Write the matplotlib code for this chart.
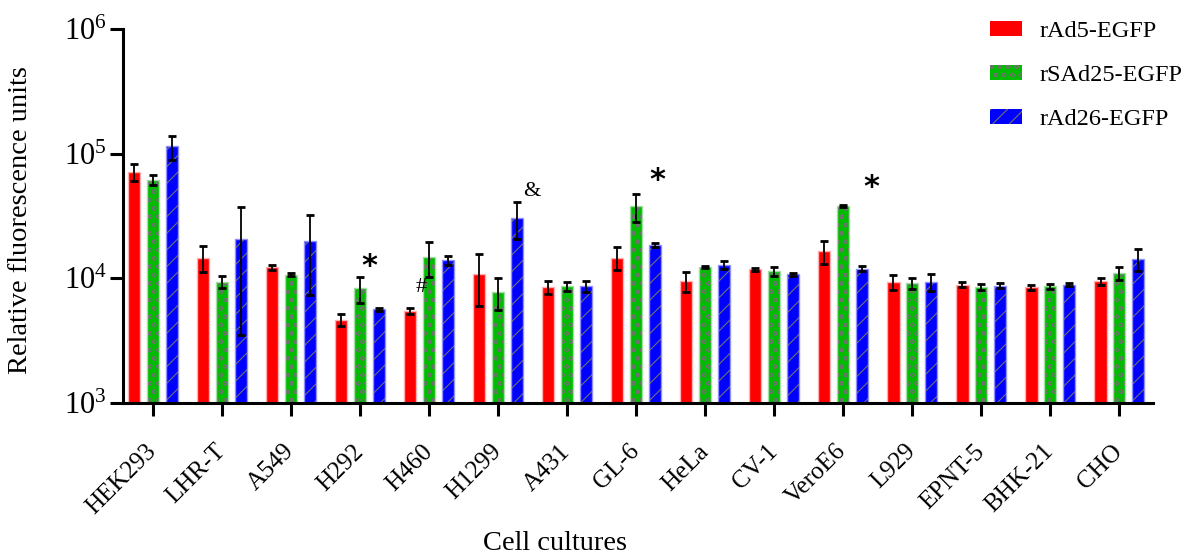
import matplotlib
matplotlib.use("Agg")
import matplotlib.pyplot as plt
import matplotlib.transforms as mtransforms
import numpy as np
from matplotlib.patches import Patch

plt.rcParams['font.family'] = ['Liberation Serif', 'DejaVu Serif']
plt.rcParams['mathtext.fontset'] = 'custom'
plt.rcParams['mathtext.rm'] = 'Liberation Serif'
plt.rcParams['hatch.color'] = '#707070'
plt.rcParams['hatch.linewidth'] = 0.8

cells = ["HEK293", "LHR-T", "A549", "H292", "H460", "H1299", "A431", "GL-6",
         "HeLa", "CV-1", "VeroE6", "L929", "EPNT-5", "BHK-21", "CHO"]
series = ["rAd5-EGFP", "rSAd25-EGFP", "rAd26-EGFP"]

rad5 = [71000, 14650, 12250, 4620, 5500, 10800, 8470, 14650,
        9520, 11800, 16400, 9290, 8900, 8470, 9460]
rad5_err = [11000, 3500, 500, 500, 300, 4800, 1000, 3100,
            1700, 300, 3500, 1300, 400, 400, 600]
rsad25 = [61600, 9330, 10700, 8280, 14800, 7800, 8600, 38000,
          12300, 11400, 38000, 9120, 8520, 8630, 11000]
rsad25_err = [6000, 1000, 300, 2000, 4600, 2200, 700, 9500,
              200, 1000, 800, 900, 400, 400, 1400]
rad26 = [114000, 20500, 19800, 5620, 13900, 30600, 8670, 18450,
         12800, 10770, 11950, 9340, 8700, 8900, 14260]
rad26_err = [25000, 17000, 12500, 200, 1100, 10000, 900, 700,
             1000, 300, 500, 1500, 400, 300, 2800]

marks = ["*", "#", "&", "*", "*"]
mark_x = [3.14, 3.88, 5.49, 7.31, 10.41]
mark_y = [12500, 8360, 50000, 60800, 53200]

fig = plt.figure(figsize=(11.88, 5.55), dpi=100)
ax = fig.add_axes([0.1035, 0.274, 0.867, 0.674])

x = np.arange(len(cells))
off = 0.27
w = 0.175
fills = ['#ff0000', '#00bb00', '#0000ff']
edges = ['#ffb0b0', '#a0e0a0', '#9090ff']
hatches = [None, 'oo', '//']
vals = [rad5, rsad25, rad26]
errs = [rad5_err, rsad25_err, rad26_err]

for i in range(3):
    pos = x + (i - 1) * off
    heights = np.array(vals[i]) - 1e3
    ax.bar(pos, heights, width=w, bottom=1e3, color=fills[i],
           hatch=hatches[i], zorder=2)
    ax.bar(pos, heights, width=w, bottom=1e3, fill=False,
           edgecolor=edges[i], linewidth=1.0, zorder=2.1)
    ax.errorbar(pos, vals[i], yerr=errs[i], fmt='none', ecolor='black',
                elinewidth=1.3, capsize=3.0, capthick=2.0, zorder=3)

ax.set_yscale('log')
ax.set_ylim(1e3, 1e6)
ax.set_xlim(-0.435, 14.49)
ax.yaxis.set_minor_locator(matplotlib.ticker.NullLocator())
ax.set_yticks([1e3, 1e4, 1e5, 1e6])
ax.set_yticklabels([r'$\mathregular{10^3}$', r'$\mathregular{10^4}$',
                    r'$\mathregular{10^5}$', r'$\mathregular{10^6}$'])

ax.set_xticks(x)
ax.set_xticklabels(cells, rotation=45, ha='right', va='center',
                   rotation_mode='anchor')
shift = mtransforms.ScaledTranslation(-7 / 100, 0, fig.dpi_scale_trans)
for lab in ax.get_xticklabels():
    lab.set_transform(lab.get_transform() + shift)

for s in ['top', 'right']:
    ax.spines[s].set_visible(False)
for s in ['left', 'bottom']:
    ax.spines[s].set_linewidth(2.2)
ax.tick_params(axis='both', which='major', width=2.2, length=9.5)
ax.tick_params(axis='y', labelsize=22, pad=2)
ax.tick_params(axis='x', labelsize=18, pad=23)

ax.set_ylabel('Relative fluorescence units', fontsize=20.5)
ax.yaxis.set_label_coords(-0.087, 0.49)
fig.text(555 / 1188, 5 / 555, 'Cell cultures', fontsize=20.5,
         ha='center', va='baseline')

for m, mx, my in zip(marks, mark_x, mark_y):
    if m == '*':
        ax.text(mx, my, m, fontsize=22, fontweight='bold', family='DejaVu Sans',
                ha='center', va='center')
    else:
        ax.text(mx, my, m, fontsize=16, ha='center', va='center')

handles = [Patch(facecolor=fills[i], hatch=hatches[i]) for i in range(3)]
ax.legend(handles, series, loc='upper left', bbox_to_anchor=(0.833, 0.962),
          bbox_transform=fig.transFigure, borderpad=0, borderaxespad=0,
          frameon=False, fontsize=17.5, labelspacing=0.95, handlelength=1.32,
          handleheight=0.55, handletextpad=0.74)

fig.savefig('out.png', dpi=100)
